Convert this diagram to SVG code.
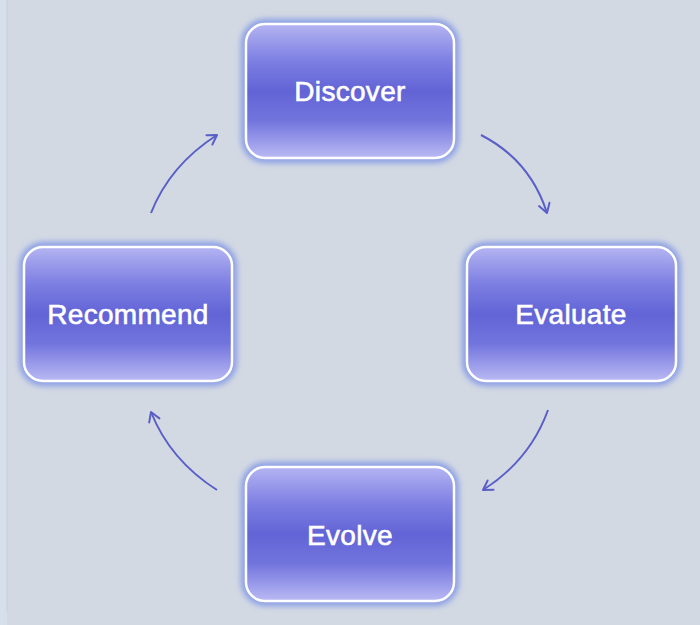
<svg xmlns="http://www.w3.org/2000/svg" width="700" height="625" viewBox="0 0 700 625">
<defs>
<linearGradient id="boxGrad" x1="0" y1="0" x2="0" y2="1">
<stop offset="0" stop-color="#b4b4f2"/>
<stop offset="0.28" stop-color="#7c7ee2"/>
<stop offset="0.5" stop-color="#6264d6"/>
<stop offset="0.72" stop-color="#7274dd"/>
<stop offset="1" stop-color="#babaf4"/>
</linearGradient>
<filter id="glow" x="-20%" y="-20%" width="140%" height="140%">
<feGaussianBlur stdDeviation="3"/>
</filter>
<marker id="arrow" markerWidth="14" markerHeight="14" refX="11" refY="7" orient="auto" markerUnits="userSpaceOnUse">
<path d="M2,1.5 L11,7 L2,12.5" fill="none" stroke="#5a5fc8" stroke-width="2" stroke-linecap="round" stroke-linejoin="round"/>
</marker>
</defs>
<style>
.halo{fill:none;stroke:#7d93e6;stroke-width:7;filter:url(#glow);}
.box{fill:url(#boxGrad);stroke:#ffffff;stroke-width:2.5;}
.label{fill:#ffffff;stroke:#ffffff;stroke-width:0.6;font-family:"Liberation Sans",Arial,sans-serif;font-size:28px;letter-spacing:0.3px;text-anchor:middle;}
.conn{fill:none;stroke:#5a5fc8;stroke-width:2;marker-end:url(#arrow);}
</style>
<rect x="0" y="0" width="700" height="625" fill="#d3d9e3"/>
<rect x="0" y="0" width="7" height="625" fill="#d8dfec"/>
<line x1="7" y1="0" x2="7" y2="612" stroke="#c9cfdc" stroke-width="1"/>

<g id="connectors">
<path class="conn" d="M481,135 Q530,160 547,213"/>
<path class="conn" d="M548,410 Q530,460 483,490"/>
<path class="conn" d="M217,490 Q170,460 151,412"/>
<path class="conn" d="M151,213 Q170,165 217,135"/>
</g>

<g id="discover">
<rect class="halo" x="245" y="23" width="210" height="136" rx="20"/>
<rect class="box" x="246" y="24" width="208" height="134" rx="19"/>
<text class="label" x="350" y="101">Discover</text>
</g>
<g id="evaluate">
<rect class="halo" x="466" y="246" width="211" height="136" rx="20"/>
<rect class="box" x="467" y="247" width="209" height="134" rx="19"/>
<text class="label" x="571" y="324">Evaluate</text>
</g>
<g id="recommend">
<rect class="halo" x="23" y="246" width="210" height="136" rx="20"/>
<rect class="box" x="24" y="247" width="208" height="134" rx="19"/>
<text class="label" x="128" y="324">Recommend</text>
</g>
<g id="evolve">
<rect class="halo" x="245" y="466" width="210" height="136" rx="20"/>
<rect class="box" x="246" y="467" width="208" height="134" rx="19"/>
<text class="label" x="350" y="545">Evolve</text>
</g>
</svg>
